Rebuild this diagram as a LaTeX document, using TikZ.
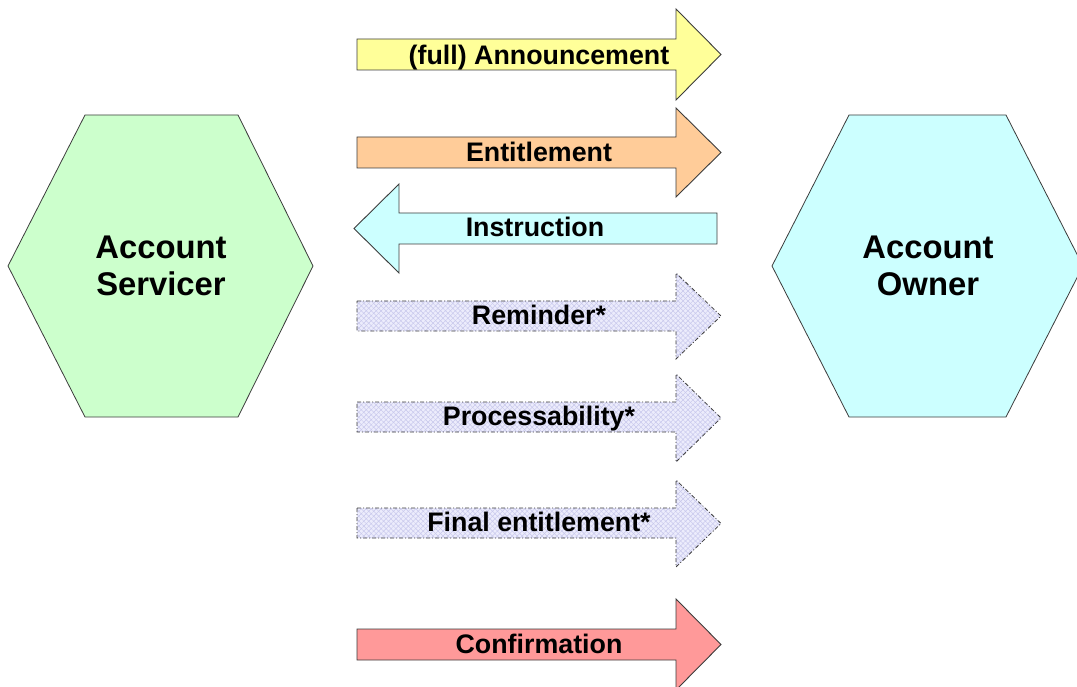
\documentclass[tikz,border=0pt]{standalone}
\usepackage{fontspec}
\setmainfont{Liberation Sans}
\usetikzlibrary{patterns.meta}
\definecolor{cgreen}{RGB}{204,255,204}
\definecolor{ccyan}{RGB}{204,255,255}
\definecolor{cyellow}{RGB}{255,255,153}
\definecolor{corange}{RGB}{255,204,153}
\definecolor{cred}{RGB}{255,153,153}
\definecolor{clav}{RGB}{236,236,252}
\definecolor{clavdark}{RGB}{200,200,236}
\definecolor{cedge}{RGB}{60,60,60}
\tikzset{
  hexshape/.style={draw=cedge, line width=0.8pt},
  solidarrow/.style={draw=cedge, line width=0.9pt},
  hatcharrow/.style={draw=cedge, line width=0.8pt, dash pattern=on 4pt off 2pt on 1pt off 2pt},
  hatchlines/.style={pattern={Lines[angle=45,distance=3.5pt,line width=0.5pt]}, pattern color=clavdark},
  hatchlines2/.style={pattern={Lines[angle=-45,distance=3.5pt,line width=0.5pt]}, pattern color=clavdark},
  arrowlabel/.style={font=\fontsize{26.8}{31}\selectfont\bfseries, inner sep=0pt, anchor=base},
  hexlabel/.style={font=\fontsize{32.8}{37}\selectfont\bfseries, align=center, inner sep=0pt}
}
\begin{document}
\begin{tikzpicture}[x=1pt,y=-1pt]
\useasboundingbox (0,0) rectangle (1077,687);

% hexagons
\draw[hexshape, fill=cgreen] (85,115) -- (238,115) -- (313,266) -- (238,417) -- (85,417) -- (8,266) -- cycle;
\node[hexlabel] (servicer) at (161,266) {Account\\Servicer};

\draw[hexshape, fill=ccyan] (849,115) -- (1006,115) -- (1083,266) -- (1006,417) -- (849,417) -- (772,266) -- cycle;
\node[hexlabel] (owner) at (928,266) {Account\\Owner};

% solid arrows
\draw[solidarrow, fill=cyellow] (357,39) -- (676,39) -- (676,9) -- (721,54.5) -- (676,100) -- (676,70) -- (357,70) -- cycle;
\node[arrowlabel] (ann) at (539,65) {(full) Announcement};

\draw[solidarrow, fill=corange] (357,137) -- (676,137) -- (676,108) -- (721,152.5) -- (676,197) -- (676,168) -- (357,168) -- cycle;
\node[arrowlabel] (ent) at (539,161.5) {Entitlement};

\draw[solidarrow, fill=ccyan] (717,213) -- (399,213) -- (399,184) -- (354,228.5) -- (399,273) -- (399,244) -- (717,244) -- cycle;
\node[arrowlabel] (ins) at (535,237) {Instruction};

\draw[solidarrow, fill=cred] (357,629) -- (676,629) -- (676,599) -- (721,644.5) -- (676,690) -- (676,660) -- (357,660) -- cycle;
\node[arrowlabel] (conf) at (539,653) {Confirmation};

% hatched dashed arrows
\foreach \ya/\yb/\hya/\hyb/\nm/\txt in {301/331/273/359/rem/{Reminder*},402/432/374/462/proc/{Processability*},508/538/480/567/fin/{Final entitlement*}}{
  \fill[clav] (357,\ya) -- (676,\ya) -- (676,\hya) -- (721,{(\hya+\hyb)/2}) -- (676,\hyb) -- (676,\yb) -- (357,\yb) -- cycle;
  \fill[hatchlines] (357,\ya) -- (676,\ya) -- (676,\hya) -- (721,{(\hya+\hyb)/2}) -- (676,\hyb) -- (676,\yb) -- (357,\yb) -- cycle;
  \fill[hatchlines2] (357,\ya) -- (676,\ya) -- (676,\hya) -- (721,{(\hya+\hyb)/2}) -- (676,\hyb) -- (676,\yb) -- (357,\yb) -- cycle;
  \draw[hatcharrow] (357,\ya) -- (676,\ya) -- (676,\hya) -- (721,{(\hya+\hyb)/2}) -- (676,\hyb) -- (676,\yb) -- (357,\yb) -- cycle;
  \node[arrowlabel] (\nm) at (539,{(\ya+\yb)/2+8}) {\txt};
}
\end{tikzpicture}
\end{document}
